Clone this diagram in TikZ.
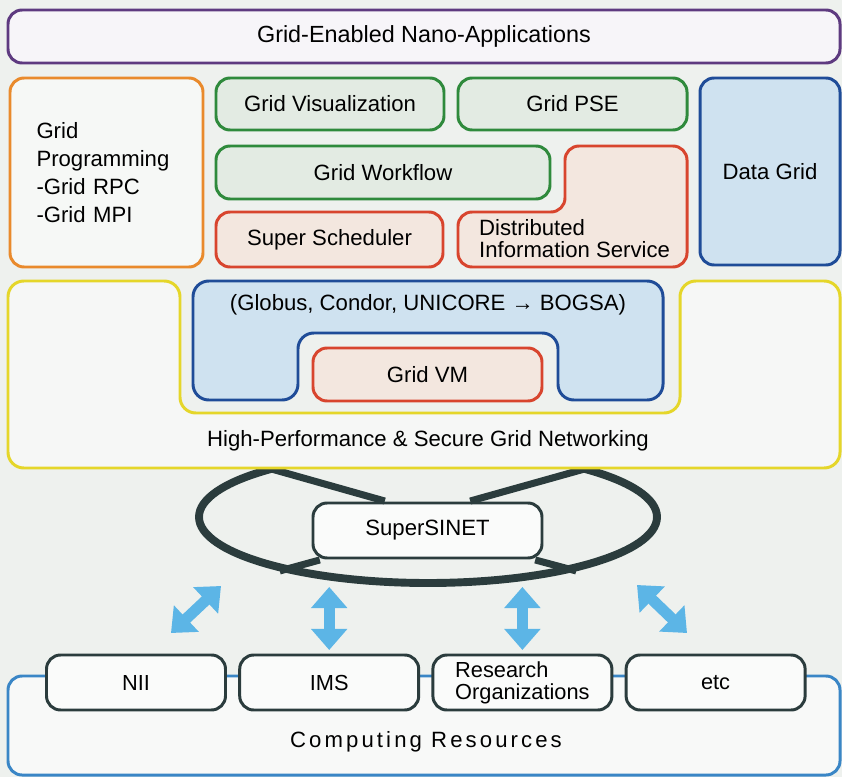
\documentclass[tikz,border=0pt]{standalone}
\usepackage{fontspec}
\setmainfont{Liberation Sans}
\usetikzlibrary{shapes.geometric,arrows.meta}
\definecolor{paper}{HTML}{EEF1EE}
\definecolor{purp}{HTML}{5E3A80}
\definecolor{orng}{HTML}{E98A2C}
\definecolor{grn}{HTML}{2F8A3C}
\definecolor{redl}{HTML}{D8452E}
\definecolor{redfill}{HTML}{F3E7DF}
\definecolor{blu}{HTML}{1F4C98}
\definecolor{bluefill}{HTML}{CFE2F0}
\definecolor{yel}{HTML}{E5D62A}
\definecolor{ringc}{HTML}{2B3C3D}
\definecolor{sky}{HTML}{5CB5E6}
\definecolor{cblue}{HTML}{3A86C6}
\begin{document}
\begin{tikzpicture}[x=0.02cm,y=-0.02cm,font=\fontsize{12.6}{15}\selectfont,
    box/.style={draw,line width=1.7pt,rounded corners=8pt,inner sep=0pt,align=center},
    sz/.style 2 args={minimum width=#1*0.02cm,minimum height=#2*0.02cm},
    greenbox/.style={box,draw=grn,fill=grn!6!paper},
    redbox/.style={box,draw=redl,fill=redfill},
    site/.style={box,draw=ringc,fill=white!70!paper,sz={179}{55},align=left,font=\fontsize{12.4}{12.5}\selectfont},
    spoke/.style={draw=ringc,line width=4pt},
    link/.style={draw=sky,line width=6.3pt,{Triangle[width=20pt,length=12pt]}-{Triangle[width=20pt,length=12pt]}}]
    \fill[paper] (0,0) rectangle (842,777);
    \node[box,draw=purp,fill=purp!5!white,sz={832}{53},font=\fontsize{13.3}{15}\selectfont] (apps) at (424,36.5) {Grid-Enabled Nano-Applications};
    \node[box,draw=orng,fill=white!50!paper,sz={193}{189},text width=2.8cm,align=left,font=\fontsize{12.6}{16}\selectfont] (prog) at (106.5,172.5) {Grid\\Programming\\-Grid RPC\\-Grid MPI};
    \node[greenbox,sz={228}{52}] (vis) at (330,104) {Grid Visualization};
    \node[greenbox,sz={229}{52}] (pse) at (572.5,104) {Grid PSE};
    \node[greenbox,sz={334}{53}] (flow) at (383,172.5) {Grid Workflow};
    \node[redbox,sz={227}{55}] (sched) at (329.5,239.5) {Super Scheduler};
    \draw[redbox] (620,146) -- (687,146) -- (687,267) -- (458,267) -- (458,212) -- (565,212) -- (565,146) -- cycle;
    \node[anchor=west,align=left,font=\fontsize{12.6}{12.5}\selectfont] (dis) at (473,239) {Distributed\\Information Service};
    \node[box,draw=blu,fill=bluefill,sz={140}{187}] (data) at (770,171.5) {Data Grid};
    \node[draw=ringc,line width=4.5pt,ellipse,inner sep=0pt,sz={458}{132}] (ring) at (428,517) {};
    \node[box,draw=ringc,fill=white!70!paper,sz={229}{55}] (net) at (427.5,530.5) {SuperSINET};
    \draw[spoke,shorten >=1pt] (ring.163) -- ([xshift=1.5cm]net.north west);
    \draw[spoke,shorten >=1pt] (ring.17) -- ([xshift=-1.5cm]net.north east);
    \draw[spoke,shorten >=1pt] (ring.200) -- ([xshift=0.2cm]net.south west);
    \draw[spoke,shorten >=1pt] (ring.340) -- ([xshift=-0.2cm]net.south east);
    \draw[draw=yel,fill=white!45!paper,line width=1.7pt,rounded corners=9pt] (400,468) -- (8,468) -- (8,281) -- (180,281) -- (180,413) -- (680,413) -- (680,281) -- (840,281) -- (840,468) -- cycle;
    \draw[draw=blu,fill=bluefill,line width=1.7pt,rounded corners=9pt] (430,281) -- (663,281) -- (663,400) -- (558,400) -- (558,333) -- (298,333) -- (298,400) -- (193,400) -- (193,281) -- cycle;
    \node (globus) at (428,305) {(Globus, Condor, UNICORE → BOGSA)};
    \node[redbox,sz={229}{53}] (vm) at (427.5,374.5) {Grid VM};
    \node (hpn) at (428,441) {High-Performance \& Secure Grid Networking};
    \node[box,draw=cblue,fill=white!60!paper,sz={832}{99}] (comp) at (424,725.5) {};
    \node[font=\fontsize{12.6}{15}\selectfont\addfontfeature{LetterSpace=14}] (comptxt) at (426,742) {Computing Resources};
    \foreach[count=\i] \n/\lbl in {nii/NII,ims/IMS,org/{Research\\Organizations},etc/etc}
        \node[site] (\n) at ({136+193.2*(\i-1)},682.5) {\lbl};
    \draw[link,shorten <=2pt] (ims.north) -- (ims.north |- ring.south);
    \draw[link,shorten <=2pt] (org.north) -- (org.north |- ring.south);
    \coordinate (nlow) at (171,633);
    \coordinate (nup) at (221,586);
    \coordinate (elow) at (687,633);
    \coordinate (eup) at (637,585);
    \draw[link] (nlow) -- (nup);
    \draw[link] (elow) -- (eup);
\end{tikzpicture}
\end{document}
